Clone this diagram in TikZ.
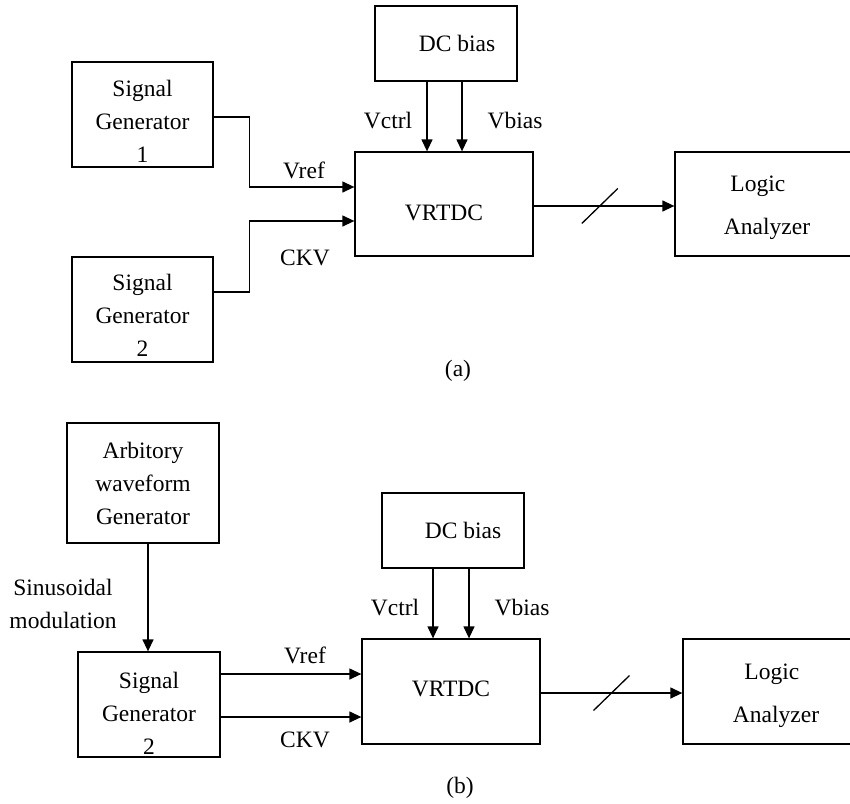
\documentclass[tikz,border=0pt]{standalone}
\usepackage{fontspec}
\setmainfont{Liberation Serif}
\usetikzlibrary{arrows.meta,positioning}

\begin{document}
\begin{tikzpicture}[x=1pt,y=-1pt,
	every node/.style={font=\fontsize{23.5}{33}\selectfont},
	blk/.style={rectangle,draw,line width=1.3pt,align=center,inner sep=0pt},
	sigline/.style={line width=1.3pt,-{Triangle[length=12pt,width=11pt]}},
	wire/.style={line width=1.3pt}]
	\useasboundingbox (0,0) rectangle (850,803);

	% (a)
	\begin{scope}
		\node[blk,minimum width=142pt,minimum height=75pt] (dcA) at (446,43.5) {\hspace*{22pt}DC bias};
		\node[blk,minimum width=141pt,minimum height=105pt] (genA1) at (142.5,114.5) {\rule{0pt}{30pt}Signal\\Generator\\1};
		\node[blk,minimum width=141pt,minimum height=105pt] (genA2) at (142.5,309.5) {\rule{0pt}{28pt}Signal\\Generator\\2};
		\node[blk,minimum width=178pt,minimum height=104pt,text height=33.5pt] (vrtdcA) at (444,204) {VRTDC};
		\node[blk,minimum width=185pt,minimum height=104pt] (logicA) at (767.5,204) {};
		\node[align=left] (logicAtxt) at (767,208) {\hspace*{6.5pt}Logic\\[10pt]Analyzer};
		\node (vctrlA) at (388,121) {Vctrl};
		\node (vbiasA) at (515,121) {Vbias};
		\node (vrefA) at (304,170) {Vref};
		\node (ckvA) at (305,258) {CKV};
		\node (capA) at (458,371) {(a)};
	\end{scope}

	\begin{scope}
		\draw[sigline] ([yshift=-2.5pt]genA1.east) -- ++(36,0) |- ([yshift=17pt]vrtdcA.west);
		\draw[sigline] ([yshift=17.5pt]genA2.east) -- ++(36,0) |- ([yshift=-17pt]vrtdcA.west);
		\draw[sigline] ([xshift=-19pt]dcA.south) -- ([xshift=-19pt]dcA.south |- vrtdcA.north);
		\draw[sigline] ([xshift=16pt]dcA.south) -- ([xshift=16pt]dcA.south |- vrtdcA.north);
		\draw[sigline] ([yshift=-2pt]vrtdcA.east) -- coordinate[pos=0.47] (busA) ([yshift=-2pt]vrtdcA.east -| logicA.west);
		\draw[wire] ([shift={(-18,17.5)}]busA) -- ([shift={(18,-17.5)}]busA);
	\end{scope}

	% (b)
	\begin{scope}
		\node[blk,minimum width=152pt,minimum height=120pt] (awg) at (143,483) {Arbitory\\waveform\\Generator};
		\node[align=center] (sinmod) at (63,604) {Sinusoidal\\modulation};
		\node[blk,minimum width=142pt,minimum height=105pt] (genB) at (149,704.5) {\rule{0pt}{34pt}Signal\\Generator\\2};
		\node[blk,minimum width=142pt,minimum height=75pt] (dcB) at (453,530.5) {\hspace*{20pt}DC bias};
		\node[blk,minimum width=178pt,minimum height=105pt,text depth=6pt] (vrtdcB) at (451,691.5) {VRTDC};
		\node[blk,minimum width=177pt,minimum height=105pt] (logicB) at (771.5,691.5) {};
		\node[align=left] (logicBtxt) at (776,695.5) {\hspace*{11.5pt}Logic\\[10pt]Analyzer};
		\node (vctrlB) at (395,608) {Vctrl};
		\node (vbiasB) at (522,608) {Vbias};
		\node (vrefB) at (305,655) {Vref};
		\node (ckvB) at (305,740) {CKV};
		\node (capB) at (460,788) {(b)};
	\end{scope}

	\begin{scope}
		\draw[sigline] ([xshift=5pt]awg.south) -- ([xshift=5pt]awg.south |- genB.north);
		\draw[sigline] ([yshift=30.5pt]genB.east) -- ([yshift=30.5pt]genB.east -| vrtdcB.west);
		\draw[sigline] ([yshift=-12.5pt]genB.east) -- ([yshift=-12.5pt]genB.east -| vrtdcB.west);
		\draw[sigline] ([xshift=-20pt]dcB.south) -- ([xshift=-20pt]dcB.south |- vrtdcB.north);
		\draw[sigline] ([xshift=16pt]dcB.south) -- ([xshift=16pt]dcB.south |- vrtdcB.north);
		\draw[sigline] ([yshift=-1.5pt]vrtdcB.east) -- coordinate[pos=0.5] (busB) ([yshift=-1.5pt]vrtdcB.east -| logicB.west);
		\draw[wire] ([shift={(-18,17.5)}]busB) -- ([shift={(18,-17.5)}]busB);
	\end{scope}
\end{tikzpicture}
\end{document}
